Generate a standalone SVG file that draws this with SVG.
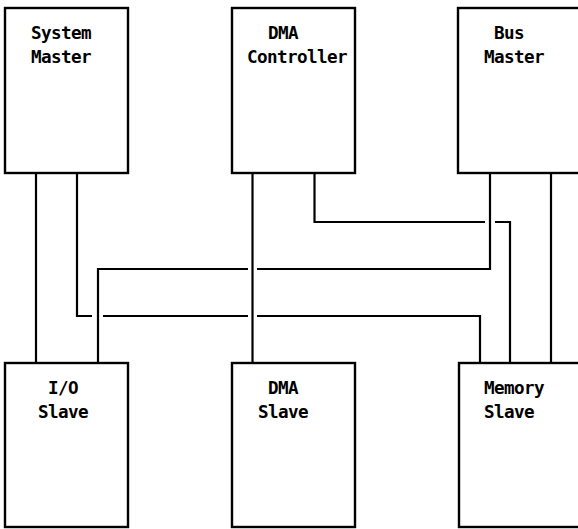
<svg xmlns="http://www.w3.org/2000/svg" width="578" height="529" viewBox="0 0 578 529">
<style>
.box{fill:#fff;stroke:#000;stroke-width:2.4}
.wire{fill:none;stroke:#000;stroke-width:2.2}
.lbl{font-family:"DejaVu Sans Mono","Liberation Mono",monospace;font-weight:bold;font-size:17.6px;letter-spacing:-0.6px;fill:#000}
</style>
<rect width="578" height="529" fill="#fff"/>
<g id="connectors">
<path class="wire" d="M36,173V363"/>
<path class="wire" d="M77,173V316H92M103,316H248M257,316H480V363"/>
<path class="wire" d="M252.5,173V363"/>
<path class="wire" d="M314.5,173V222H485M495,222H510V363"/>
<path class="wire" d="M490,173V269H257M248,269H98V363"/>
<path class="wire" d="M551,173V363"/>
</g>
<g id="system-master">
<rect class="box" x="5" y="8" width="123" height="165"/>
<text class="lbl" x="31" y="39">System</text>
<text class="lbl" x="31" y="63">Master</text>
</g>
<g id="dma-controller">
<rect class="box" x="232" y="8" width="123" height="165"/>
<text class="lbl" x="268" y="39">DMA</text>
<text class="lbl" x="247" y="63">Controller</text>
</g>
<g id="bus-master">
<rect class="box" x="458" y="8" width="125" height="165"/>
<text class="lbl" x="494" y="39">Bus</text>
<text class="lbl" x="484" y="63">Master</text>
</g>
<g id="io-slave">
<rect class="box" x="5" y="363" width="123" height="164"/>
<text class="lbl" x="48" y="394">I/O</text>
<text class="lbl" x="38" y="418">Slave</text>
</g>
<g id="dma-slave">
<rect class="box" x="232" y="363" width="123" height="164"/>
<text class="lbl" x="268" y="394">DMA</text>
<text class="lbl" x="258" y="418">Slave</text>
</g>
<g id="memory-slave">
<rect class="box" x="459" y="363" width="124" height="164"/>
<text class="lbl" x="484" y="394">Memory</text>
<text class="lbl" x="484" y="418">Slave</text>
</g>
</svg>
